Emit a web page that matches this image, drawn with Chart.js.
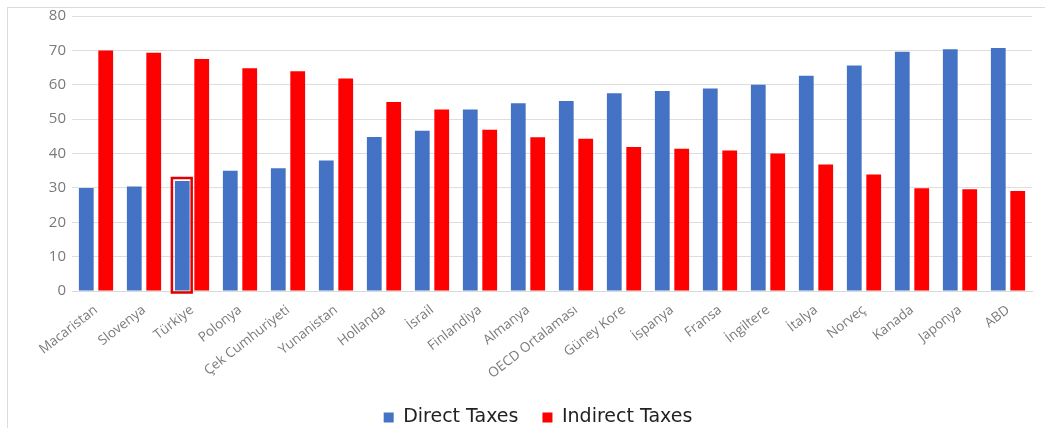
<!DOCTYPE html>
<html>
<head>
<meta charset="utf-8">
<script src="https://cdn.jsdelivr.net/npm/chart.js@4/dist/chart.umd.min.js"></script>
<style>
  html, body { margin: 0; padding: 0; background: #fff; overflow: hidden; }
  #frame { position: absolute; left: 7px; top: 7px; width: 1100px; height: 500px; border: 1px solid #dcdcdc; }
  #wrap { position: absolute; left: 0; top: 0; width: 1045px; height: 428px; }
</style>
</head>
<body>
<div id="frame"></div>
<div id="wrap"><canvas id="taxChart" width="1045" height="428"></canvas></div>
<script>
const countries = ['Macaristan', 'Slovenya', 'Türkiye', 'Polonya', 'Çek Cumhuriyeti', 'Yunanistan',
  'Hollanda', 'İsrail', 'Finlandiya', 'Almanya', 'OECD Ortalaması', 'Güney Kore', 'İspanya',
  'Fransa', 'İngiltere', 'İtalya', 'Norveç', 'Kanada', 'Japonya', 'ABD'];
const directTaxes = [30, 30.4, 32, 35, 35.7, 38, 44.8, 46.6, 52.8, 54.6, 55.3, 57.5, 58.2,
  58.9, 60, 62.6, 65.6, 69.6, 70.3, 70.7];
const indirectTaxes = [70, 69.3, 67.5, 64.8, 63.9, 61.8, 55, 52.8, 46.9, 44.7, 44.3, 41.9, 41.4,
  40.9, 40, 36.8, 33.9, 29.9, 29.6, 29.1];
const yTicks = [0, 10, 20, 30, 40, 50, 60, 70, 80];
const highlightIndex = 2; // Türkiye kutusu

// Türkiye çubuğunun etrafındaki kırmızı çerçeve
const highlightBox = {
  id: 'highlightBox',
  afterDatasetsDraw(chart) {
    const bar = chart.getDatasetMeta(0).data[highlightIndex];
    if (!bar) return;
    const ctx = chart.ctx;
    const half = bar.width / 2;
    ctx.save();
    ctx.strokeStyle = '#e00000';
    ctx.lineWidth = 2.5;
    ctx.strokeRect(bar.x - half - 3, bar.y - 3, bar.width + 5, bar.base - bar.y + 5);
    ctx.restore();
  }
};

new Chart(document.getElementById('taxChart'), {
  type: 'bar',
  data: {
    labels: countries,
    datasets: [
      { label: 'Direct Taxes', data: directTaxes, backgroundColor: '#4472C4' },
      { label: 'Indirect Taxes', data: indirectTaxes, backgroundColor: '#FF0000' }
    ]
  },
  options: {
    responsive: false,
    animation: false,
    layout: { padding: { left: 44, right: 13, top: 16, bottom: -9 } },
    categoryPercentage: 0.81,
    barPercentage: 0.76,
    plugins: {
      legend: {
        position: 'bottom',
        labels: {
          boxWidth: 10, boxHeight: 10, padding: 24,
          color: '#222', font: { family: 'DejaVu Sans', size: 19 }
        }
      },
      tooltip: { enabled: false }
    },
    scales: {
      x: {
        grid: { display: false },
        border: { color: '#d9d9d9' },
        ticks: {
          color: '#7a7a7a', font: { family: 'Open Sans', size: 13.5 },
          minRotation: 38, maxRotation: 38, autoSkip: false
        },
        afterFit(scale) { scale.height = 93; }
      },
      y: {
        min: 0, max: 80,
        afterBuildTicks(scale) { scale.ticks = yTicks.map(v => ({ value: v })); },
        grid: { color: '#dedede', drawTicks: false },
        border: { display: false },
        ticks: { color: '#7a7a7a', font: { family: 'Open Sans', size: 15 }, padding: 6 },
        afterFit(scale) { scale.width = 28; }
      }
    }
  },
  plugins: [highlightBox]
});
</script>
</body>
</html>
